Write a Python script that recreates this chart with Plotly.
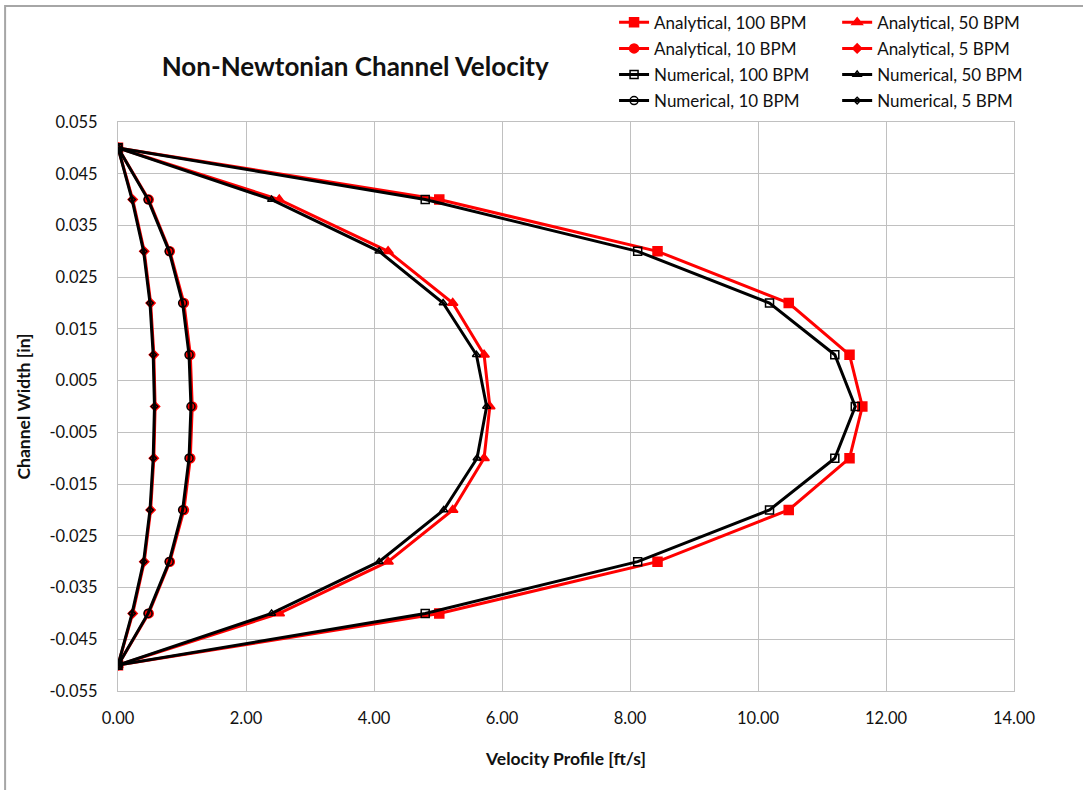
import plotly.graph_objects as go

# Channel width positions [in]
width_in = [0.05, 0.04, 0.03, 0.02, 0.01, 0.0, -0.01, -0.02, -0.03, -0.04, -0.05]

# Velocity profiles [ft/s]
analytical_100 = [0, 5.02, 8.43, 10.48, 11.43, 11.63, 11.43, 10.48, 8.43, 5.02, 0]
analytical_50 = [0, 2.52, 4.22, 5.23, 5.72, 5.81, 5.72, 5.23, 4.22, 2.52, 0]
analytical_10 = [0, 0.48, 0.81, 1.03, 1.13, 1.16, 1.13, 1.03, 0.81, 0.48, 0]
analytical_5 = [0, 0.23, 0.41, 0.51, 0.56, 0.58, 0.56, 0.51, 0.41, 0.23, 0]

numerical_100 = [0, 4.80, 8.12, 10.18, 11.20, 11.52, 11.20, 10.18, 8.12, 4.80, 0]
numerical_50 = [0, 2.40, 4.08, 5.08, 5.60, 5.76, 5.61, 5.09, 4.08, 2.40, 0]
numerical_10 = [0, 0.47, 0.80, 1.01, 1.11, 1.14, 1.11, 1.01, 0.80, 0.47, 0]
numerical_5 = [0, 0.22, 0.40, 0.50, 0.55, 0.57, 0.55, 0.50, 0.40, 0.22, 0]

x_ticks = [0, 2, 4, 6, 8, 10, 12, 14]
y_ticks = [0.055, 0.045, 0.035, 0.025, 0.015, 0.005, -0.005, -0.015,
           -0.025, -0.035, -0.045, -0.055]
x_labels = [f"{v:.2f}" for v in x_ticks]
y_labels = [f"{v:.3f}" for v in y_ticks]

FONT = "Lato"
RED = "#ff0000"
BLACK = "#000000"
TEXT = "#111111"

series = [
    # name, values, color, symbol, size, legend
    ("Analytical, 100 BPM", analytical_100, RED, "square", 9, "legend"),
    ("Analytical, 50 BPM", analytical_50, RED, "triangle-up", 9, "legend2"),
    ("Analytical, 10 BPM", analytical_10, RED, "circle", 9, "legend"),
    ("Analytical, 5 BPM", analytical_5, RED, "diamond", 7, "legend2"),
    ("Numerical, 100 BPM", numerical_100, BLACK, "square-open", 8, "legend"),
    ("Numerical, 50 BPM", numerical_50, BLACK, "triangle-up-open", 7, "legend2"),
    ("Numerical, 10 BPM", numerical_10, BLACK, "circle-open", 8, "legend"),
    ("Numerical, 5 BPM", numerical_5, BLACK, "diamond-open", 5, "legend2"),
]

fig = go.Figure()
for name, vals, color, symbol, size, leg in series:
    fig.add_trace(go.Scatter(
        x=vals, y=width_in, name=name, mode="lines+markers",
        line=dict(color=color, width=3),
        marker=dict(symbol=symbol, size=size, color=color,
                    line=dict(color=color, width=1.5)),
        legend=leg, legendgroup=name,
    ))

legend_style = dict(
    orientation="v", xref="container", yref="container",
    xanchor="left", yanchor="top",
    font=dict(family=FONT, size=17, color=TEXT),
    bgcolor="rgba(0,0,0,0)", tracegroupgap=1, itemwidth=30,
)

fig.update_layout(
    width=1083, height=790,
    paper_bgcolor="white", plot_bgcolor="white",
    margin=dict(l=118, r=69, t=122, b=99, autoexpand=False),
    font=dict(family=FONT, size=16, color=TEXT),
    title=dict(text="<b>Non-Newtonian Channel Velocity</b>",
               x=0.328, xanchor="center", y=0.915, yanchor="middle",
               font=dict(family=FONT, size=26, color=TEXT)),
    legend=dict(x=0.567, y=0.994, **legend_style),
    legend2=dict(x=0.773, y=0.994, **legend_style),
    xaxis=dict(
        range=[0, 14], tickvals=x_ticks, ticktext=x_labels,
        showgrid=True, gridcolor="#c0c0c0", gridwidth=1,
        showline=True, linecolor="#c0c0c0", linewidth=1, mirror=True,
        zeroline=False, ticks="", ticklabelstandoff=12,
        tickfont=dict(size=16.5), automargin=False,
        title=dict(text="<b>Velocity Profile [ft/s]</b>",
                   font=dict(size=17.5), standoff=25),
    ),
    yaxis=dict(
        range=[-0.055, 0.055], tickvals=y_ticks, ticktext=y_labels,
        showgrid=True, gridcolor="#c0c0c0", gridwidth=1,
        showline=True, linecolor="#c0c0c0", linewidth=1, mirror=True,
        zeroline=False, ticks="", ticklabelstandoff=16,
        tickfont=dict(size=16.5), automargin=False,
        title=dict(text="<b>Channel Width [in]</b>",
                   font=dict(size=17.5), standoff=14),
    ),
    shapes=[dict(type="rect", xref="paper", yref="paper",
                 x0=-0.126, x1=1.3, y0=-0.4, y1=1.204,
                 line=dict(color="#a6a6a6", width=2), layer="below")],
)

fig.write_html("out.html")
